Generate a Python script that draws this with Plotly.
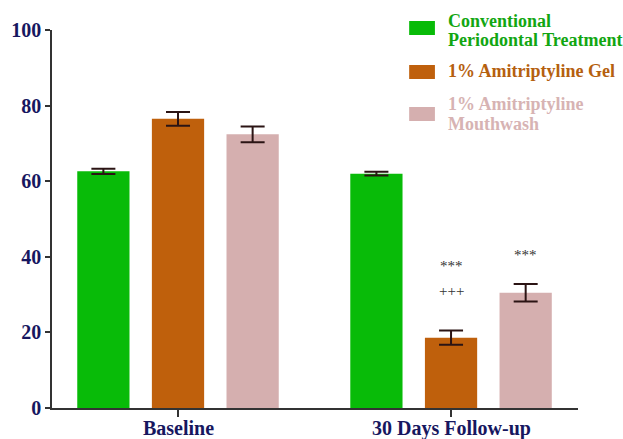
import plotly.graph_objects as go

# Time points and treatment groups
categories = ["Baseline", "30 Days Follow-up"]
group_names = [
    "Conventional Periodontal Treatment",
    "1% Amitriptyline Gel",
    "1% Amitriptyline Mouthwash",
]
# legend labels, one list of lines per group
legend_lines = [
    ["Conventional", "Periodontal Treatment"],
    ["1% Amitriptyline Gel"],
    ["1% Amitriptyline", "Mouthwash"],
]
conventional = [62.6, 62.0]
conventional_err = [0.7, 0.5]
gel = [76.5, 18.6]
gel_err = [1.8, 1.9]
mouthwash = [72.4, 30.5]
mouthwash_err = [2.1, 2.3]

# Significance markers: (category, group index, y, text)
sig_marks = [
    ("30 Days Follow-up", 1, 37.5, "***"),
    ("30 Days Follow-up", 1, 31.0, "+++"),
    ("30 Days Follow-up", 2, 40.5, "***"),
]

colors = ["#08bb08", "#bf600c", "#d5afaf"]
text_colors = ["#12a612", "#b5600f", "#d7b3b3"]
err_color = "#2b1414"
serif = "Times New Roman"
navy = "#17175f"

bargap = 0.18
bargroupgap = 0.30

fig = go.Figure()
series = [(conventional, conventional_err), (gel, gel_err), (mouthwash, mouthwash_err)]
for name, (vals, errs), col in zip(group_names, series, colors):
    fig.add_trace(go.Bar(
        x=categories, y=vals, name=name,
        marker=dict(color=col, line=dict(width=0)),
        error_y=dict(type="data", array=errs, visible=True,
                     color=err_color, thickness=2, width=12),
        showlegend=False,
    ))

# significance labels placed over their bars
slot = (1 - bargap) / 3
for cat, gi, yv, txt in sig_marks:
    fig.add_annotation(
        x=categories.index(cat) + (gi - 1) * slot, y=yv, xref="x", yref="y",
        text=txt, showarrow=False,
        font=dict(family=serif, size=15, color="#333333"),
    )

# category labels under the axis
for cat in categories:
    fig.add_annotation(
        x=cat, y=0, xref="x", yref="paper", yanchor="top", yshift=-7,
        text=cat, showarrow=False,
        font=dict(family=serif, size=20, color=navy, weight="bold"),
    )

# legend drawn as swatches with coloured labels
swatch_rows = [(1.0238, 0.9868), (0.9074, 0.8704), (0.7963, 0.7593)]
text_rows = [[1.0238, 0.9735], [0.8915], [0.8042, 0.7513]]
for (y0, y1), lines, ys, col, tcol in zip(swatch_rows, legend_lines, text_rows,
                                         colors, text_colors):
    fig.add_shape(type="rect", xref="paper", yref="paper",
                  x0=0.679, x1=0.728, y0=y1, y1=y0,
                  fillcolor=col, line=dict(width=0))
    for line, yt in zip(lines, ys):
        fig.add_annotation(
            x=0.749, y=yt, xref="paper", yref="paper",
            xanchor="left", yanchor="middle",
            text=line, showarrow=False,
            font=dict(family=serif, size=18, color=tcol, weight="bold"),
        )

fig.update_layout(
    width=623, height=439,
    margin=dict(l=52, r=45, t=30, b=31),
    paper_bgcolor="white", plot_bgcolor="white",
    barmode="group", bargap=bargap, bargroupgap=bargroupgap,
    showlegend=False,
    xaxis=dict(
        range=[-0.4615, 1.465], showgrid=False, zeroline=False, automargin=False,
        showline=True, linecolor="#333333", linewidth=1.5,
        ticks="outside", ticklen=7, tickwidth=1.5, tickcolor="#333333",
        showticklabels=False,
    ),
    yaxis=dict(
        range=[0, 100], tickvals=[0, 20, 40, 60, 80, 100],
        showgrid=False, zeroline=False, automargin=False,
        showline=True, linecolor="#333333", linewidth=1.5,
        ticks="outside", ticklen=5, tickwidth=1.5, tickcolor="#333333",
        tickfont=dict(family=serif, size=20, color=navy, weight="bold"),
    ),
)

fig.write_html("out.html")
